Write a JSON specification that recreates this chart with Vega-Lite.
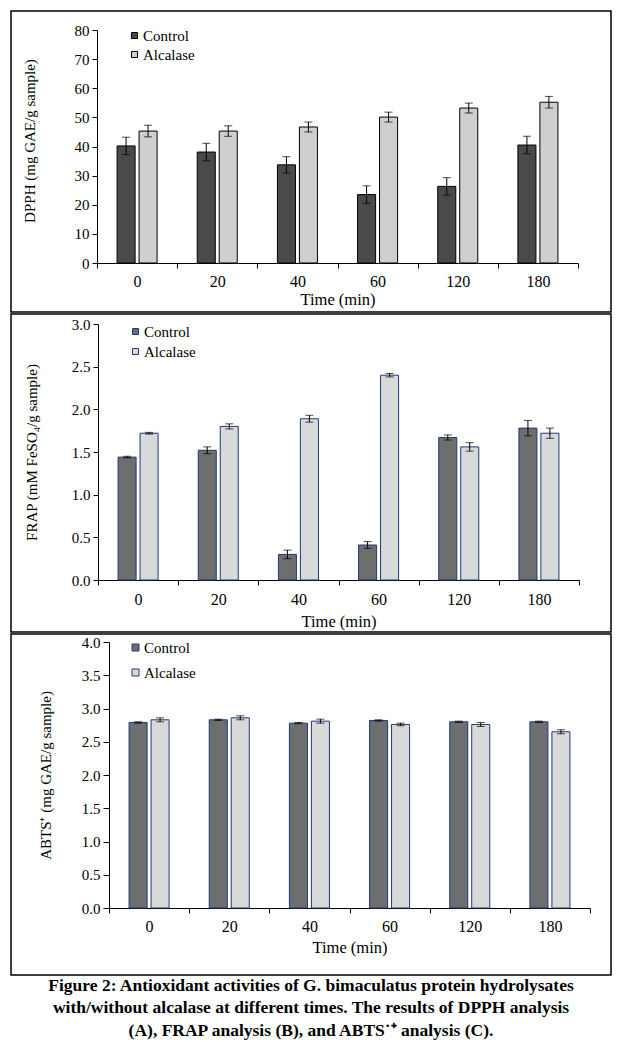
{
  "$schema": "https://vega.github.io/schema/vega-lite/v6.json",
  "padding": {"left": 10, "top": 10, "right": 11, "bottom": 0},
  "data": {"values": [
    {"panel": "A", "time": "0", "group": "Control", "value": 40.2, "low": 37.2, "high": 43.2},
    {"panel": "A", "time": "20", "group": "Control", "value": 38.1, "low": 35.1, "high": 41.1},
    {"panel": "A", "time": "40", "group": "Control", "value": 33.7, "low": 30.9, "high": 36.5},
    {"panel": "A", "time": "60", "group": "Control", "value": 23.5, "low": 20.5, "high": 26.5},
    {"panel": "A", "time": "120", "group": "Control", "value": 26.3, "low": 23.3, "high": 29.3},
    {"panel": "A", "time": "180", "group": "Control", "value": 40.5, "low": 37.5, "high": 43.5},
    {"panel": "A", "time": "0", "group": "Alcalase", "value": 45.3, "low": 43.3, "high": 47.3},
    {"panel": "A", "time": "20", "group": "Alcalase", "value": 45.3, "low": 43.5, "high": 47.1},
    {"panel": "A", "time": "40", "group": "Alcalase", "value": 46.7, "low": 45.0, "high": 48.4},
    {"panel": "A", "time": "60", "group": "Alcalase", "value": 50.1, "low": 48.4, "high": 51.8},
    {"panel": "A", "time": "120", "group": "Alcalase", "value": 53.2, "low": 51.5, "high": 54.9},
    {"panel": "A", "time": "180", "group": "Alcalase", "value": 55.2, "low": 53.2, "high": 57.2},
    {"panel": "B", "time": "0", "group": "Control", "value": 1.44, "low": 1.43, "high": 1.45},
    {"panel": "B", "time": "20", "group": "Control", "value": 1.52, "low": 1.48, "high": 1.56},
    {"panel": "B", "time": "40", "group": "Control", "value": 0.30, "low": 0.25, "high": 0.35},
    {"panel": "B", "time": "60", "group": "Control", "value": 0.41, "low": 0.37, "high": 0.45},
    {"panel": "B", "time": "120", "group": "Control", "value": 1.67, "low": 1.64, "high": 1.70},
    {"panel": "B", "time": "180", "group": "Control", "value": 1.78, "low": 1.69, "high": 1.87},
    {"panel": "B", "time": "0", "group": "Alcalase", "value": 1.72, "low": 1.71, "high": 1.73},
    {"panel": "B", "time": "20", "group": "Alcalase", "value": 1.80, "low": 1.77, "high": 1.83},
    {"panel": "B", "time": "40", "group": "Alcalase", "value": 1.89, "low": 1.85, "high": 1.93},
    {"panel": "B", "time": "60", "group": "Alcalase", "value": 2.40, "low": 2.38, "high": 2.42},
    {"panel": "B", "time": "120", "group": "Alcalase", "value": 1.56, "low": 1.51, "high": 1.61},
    {"panel": "B", "time": "180", "group": "Alcalase", "value": 1.72, "low": 1.66, "high": 1.78},
    {"panel": "C", "time": "0", "group": "Control", "value": 2.79, "low": 2.78, "high": 2.80},
    {"panel": "C", "time": "20", "group": "Control", "value": 2.83, "low": 2.82, "high": 2.84},
    {"panel": "C", "time": "40", "group": "Control", "value": 2.78, "low": 2.77, "high": 2.79},
    {"panel": "C", "time": "60", "group": "Control", "value": 2.82, "low": 2.81, "high": 2.83},
    {"panel": "C", "time": "120", "group": "Control", "value": 2.80, "low": 2.79, "high": 2.81},
    {"panel": "C", "time": "180", "group": "Control", "value": 2.80, "low": 2.79, "high": 2.81},
    {"panel": "C", "time": "0", "group": "Alcalase", "value": 2.83, "low": 2.80, "high": 2.86},
    {"panel": "C", "time": "20", "group": "Alcalase", "value": 2.86, "low": 2.83, "high": 2.89},
    {"panel": "C", "time": "40", "group": "Alcalase", "value": 2.81, "low": 2.78, "high": 2.84},
    {"panel": "C", "time": "60", "group": "Alcalase", "value": 2.76, "low": 2.74, "high": 2.78},
    {"panel": "C", "time": "120", "group": "Alcalase", "value": 2.76, "low": 2.73, "high": 2.79},
    {"panel": "C", "time": "180", "group": "Alcalase", "value": 2.65, "low": 2.62, "high": 2.68}
  ]},
  "title": {
    "text": [
      "Figure 2: Antioxidant activities of G. bimaculatus protein hydrolysates",
      "with/without alcalase at different times. The results of DPPH analysis",
      "(A), FRAP analysis (B), and ABTS˙⁺ analysis (C)."
    ],
    "orient": "bottom",
    "anchor": "middle",
    "font": "Liberation Serif",
    "fontSize": 17.5,
    "fontWeight": "bold",
    "color": "black",
    "lineHeight": 22.5,
    "offset": 1
  },
  "resolve": {"scale": {"fill": "independent"}, "legend": {"fill": "independent"}},
  "vconcat": [
    {
      "width": 600,
      "height": 301,
      "transform": [{"filter": "datum.panel === 'A'"}],
      "encoding": {
        "x": {"field": "time", "type": "ordinal", "sort": ["0", "20", "40", "60", "120", "180"],
          "scale": {"range": [86, 567], "paddingInner": 0, "paddingOuter": 0},
          "axis": {"title": "Time (min)", "labelAngle": 0, "offset": -49, "tickBand": "extent", "tickSize": 5, "labelPadding": 5, "labelFontSize": 16, "titleY": 36, "titleBaseline": "middle", "titleFontSize": 16.5}},
        "xOffset": {"field": "group", "type": "nominal", "sort": ["Control", "Alcalase"],
          "scale": {"paddingInner": 0.18, "paddingOuter": 0.913}}
      },
      "layer": [
        {
          "mark": {"type": "bar", "stroke": "black", "strokeWidth": 1},
          "encoding": {
            "y": {"field": "value", "type": "quantitative", "title": "DPPH (mg GAE/g sample)",
              "scale": {"domain": [0, 80], "range": [252, 19], "nice": false, "zero": true},
              "axis": {"values": [0, 10, 20, 30, 40, 50, 60, 70, 80], "tickCount": 9, "labelOverlap": false, "offset": -86, "tickSize": 5, "labelPadding": 3, "titleX": -68, "titleY": 129.5, "titleBaseline": "middle"}},
            "fill": {"field": "group", "type": "nominal",
              "scale": {"domain": ["Control", "Alcalase"], "range": ["#4a4a4a", "#cfcfcf"]},
              "legend": {"orient": "none", "legendX": 116, "legendY": 17, "title": null, "symbolType": "square", "symbolSize": 36, "symbolStrokeColor": "black", "symbolStrokeWidth": 1, "labelFont": "Liberation Serif", "labelFontSize": 15, "labelColor": "black", "rowPadding": 3, "labelOffset": 1, "padding": 0}}
          }
        },
        {
          "mark": {"type": "rule", "color": "black", "strokeWidth": 1},
          "encoding": {
            "y": {"field": "low", "type": "quantitative", "title": "DPPH (mg GAE/g sample)"},
            "y2": {"field": "high"}
          }
        },
        {
          "mark": {"type": "tick", "color": "black", "size": 8, "thickness": 1},
          "encoding": {"y": {"field": "low", "type": "quantitative", "title": "DPPH (mg GAE/g sample)"}}
        },
        {
          "mark": {"type": "tick", "color": "black", "size": 8, "thickness": 1},
          "encoding": {"y": {"field": "high", "type": "quantitative", "title": "DPPH (mg GAE/g sample)"}}
        }
      ]
    },
    {
      "width": 600,
      "height": 318,
      "transform": [{"filter": "datum.panel === 'B'"}],
      "encoding": {
        "x": {"field": "time", "type": "ordinal", "sort": ["0", "20", "40", "60", "120", "180"],
          "scale": {"range": [87, 568], "paddingInner": 0, "paddingOuter": 0},
          "axis": {"title": "Time (min)", "labelAngle": 0, "offset": -52, "tickBand": "extent", "tickSize": 5, "labelPadding": 6, "labelFontSize": 16, "titleY": 41, "titleBaseline": "middle", "titleFontSize": 16.5}},
        "xOffset": {"field": "group", "type": "nominal", "sort": ["Control", "Alcalase"],
          "scale": {"paddingInner": 0.217, "paddingOuter": 0.851}}
      },
      "layer": [
        {
          "mark": {"type": "bar", "stroke": "#1f3a7a", "strokeWidth": 1},
          "encoding": {
            "y": {"field": "value", "type": "quantitative", "title": "FRAP (mM FeSO₄/g sample)",
              "scale": {"domain": [0, 3], "range": [266, 10], "nice": false, "zero": true},
              "axis": {"values": [0, 0.5, 1, 1.5, 2, 2.5, 3], "labelOverlap": false, "format": ".1f", "offset": -87, "tickSize": 5, "labelPadding": 3, "titleX": -67, "titleY": 138, "titleBaseline": "middle"}},
            "fill": {"field": "group", "type": "nominal",
              "scale": {"domain": ["Control", "Alcalase"], "range": ["#6e6e6e", "#d9d9d9"]},
              "legend": {"orient": "none", "legendX": 117, "legendY": 10, "title": null, "symbolType": "square", "symbolSize": 36, "symbolStrokeColor": "#1f3a7a", "symbolStrokeWidth": 1, "labelFont": "Liberation Serif", "labelFontSize": 15, "labelColor": "black", "rowPadding": 4, "labelOffset": 1, "padding": 0}}
          }
        },
        {
          "mark": {"type": "rule", "color": "black", "strokeWidth": 1},
          "encoding": {
            "y": {"field": "low", "type": "quantitative", "title": "FRAP (mM FeSO₄/g sample)"},
            "y2": {"field": "high"}
          }
        },
        {
          "mark": {"type": "tick", "color": "black", "size": 8, "thickness": 1},
          "encoding": {"y": {"field": "low", "type": "quantitative", "title": "FRAP (mM FeSO₄/g sample)"}}
        },
        {
          "mark": {"type": "tick", "color": "black", "size": 8, "thickness": 1},
          "encoding": {"y": {"field": "high", "type": "quantitative", "title": "FRAP (mM FeSO₄/g sample)"}}
        }
      ]
    },
    {
      "width": 600,
      "height": 341,
      "transform": [{"filter": "datum.panel === 'C'"}],
      "encoding": {
        "x": {"field": "time", "type": "ordinal", "sort": ["0", "20", "40", "60", "120", "180"],
          "scale": {"range": [98, 579], "paddingInner": 0, "paddingOuter": 0},
          "axis": {"title": "Time (min)", "labelAngle": 0, "offset": -67, "tickBand": "extent", "tickSize": 5, "labelPadding": 5, "labelFontSize": 16, "titleY": 39, "titleBaseline": "middle", "titleFontSize": 16.5}},
        "xOffset": {"field": "group", "type": "nominal", "sort": ["Control", "Alcalase"],
          "scale": {"paddingInner": 0.217, "paddingOuter": 0.851}}
      },
      "layer": [
        {
          "mark": {"type": "bar", "stroke": "#1f3a7a", "strokeWidth": 1},
          "encoding": {
            "y": {"field": "value", "type": "quantitative", "title": "ABTS⁺ (mg GAE/g sample)",
              "scale": {"domain": [0, 4], "range": [274, 8], "nice": false, "zero": true},
              "axis": {"values": [0, 0.5, 1, 1.5, 2, 2.5, 3, 3.5, 4], "labelOverlap": false, "format": ".1f", "offset": -98, "tickSize": 6, "labelPadding": 3, "titleX": -64, "titleY": 141, "titleBaseline": "middle"}},
            "fill": {"field": "group", "type": "nominal",
              "scale": {"domain": ["Control", "Alcalase"], "range": ["#6e6e6e", "#d9d9d9"]},
              "legend": {"orient": "none", "legendX": 117, "legendY": 6, "title": null, "symbolType": "square", "symbolSize": 49, "symbolStrokeColor": "#1f3a7a", "symbolStrokeWidth": 1, "labelFont": "Liberation Serif", "labelFontSize": 15, "labelColor": "black", "rowPadding": 9, "labelOffset": 1, "padding": 0}}
          }
        },
        {
          "mark": {"type": "rule", "color": "black", "strokeWidth": 1},
          "encoding": {
            "y": {"field": "low", "type": "quantitative", "title": "ABTS⁺ (mg GAE/g sample)"},
            "y2": {"field": "high"}
          }
        },
        {
          "mark": {"type": "tick", "color": "black", "size": 8, "thickness": 1},
          "encoding": {"y": {"field": "low", "type": "quantitative", "title": "ABTS⁺ (mg GAE/g sample)"}}
        },
        {
          "mark": {"type": "tick", "color": "black", "size": 8, "thickness": 1},
          "encoding": {"y": {"field": "high", "type": "quantitative", "title": "ABTS⁺ (mg GAE/g sample)"}}
        }
      ]
    }
  ],
  "config": {
    "view": {"stroke": "black", "strokeWidth": 1.5},
    "concat": {"spacing": 0},
    "font": "Liberation Serif",
    "axis": {
      "grid": false,
      "labelFont": "Liberation Serif",
      "labelFontSize": 15,
      "labelColor": "black",
      "titleFont": "Liberation Serif",
      "titleFontSize": 15,
      "titleFontWeight": "normal",
      "titleColor": "black",
      "domainColor": "black",
      "domainWidth": 1,
      "tickColor": "black",
      "tickWidth": 1
    }
  }
}
